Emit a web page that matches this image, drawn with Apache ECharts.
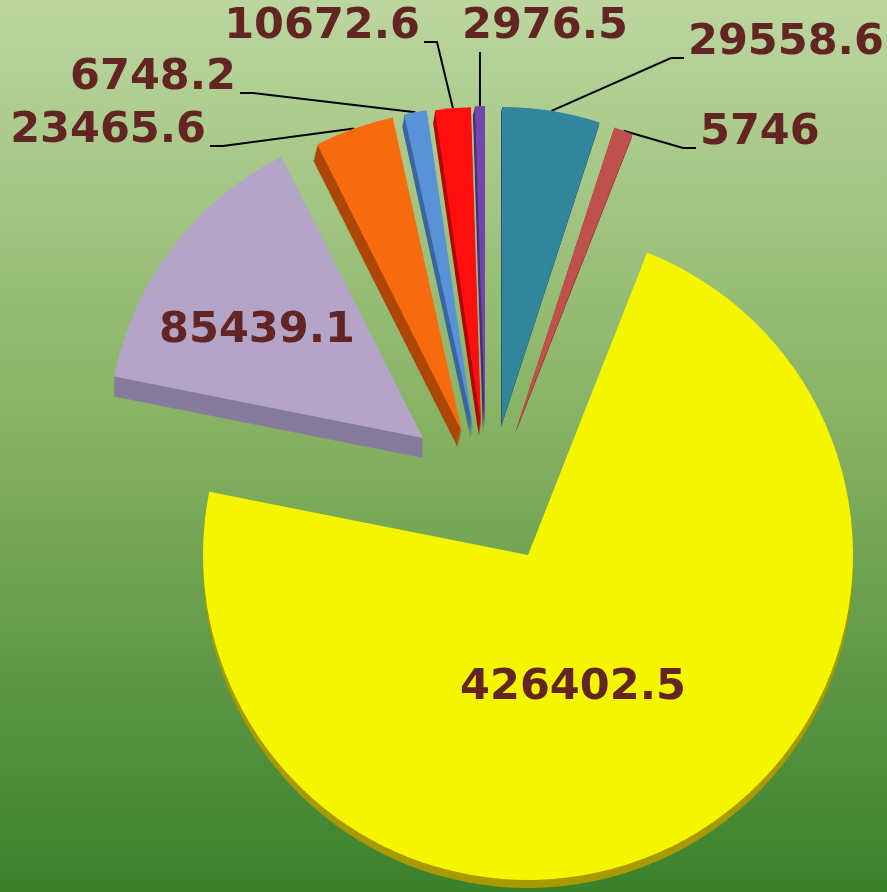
<!DOCTYPE html>
<html>
<head>
<meta charset="utf-8">
<script src="https://cdn.jsdelivr.net/npm/echarts@6/dist/echarts.min.js"></script>
<style>html,body{margin:0;padding:0;overflow:hidden;}#chart{width:887px;height:892px;}</style>
</head>
<body>
<div id="chart"></div>
<script>
// ---- data ----
const categories = ['S1', 'S2', 'S3', 'S4', 'S5', 'S6', 'S7', 'S8'];
const values = [29558.6, 5746, 426402.5, 85439.1, 23465.6, 6748.2, 10672.6, 2976.5];
const labelTexts = ['29558.6', '5746', '426402.5', '85439.1', '23465.6', '6748.2', '10672.6', '2976.5'];

// ---- styling / layout ----
const topColors  = ['#31869b', '#c0504d', '#f5f500', '#b3a4c8', '#f86a0e', '#5a92d8', '#ff0e0e', '#7446ad'];
const sideColors = ['#1f5d6d', '#8a3331', '#a89a00', '#867b9c', '#ad4608', '#3a66a2', '#b00808', '#4c2b7a'];
// per-slice pie centre (exploded), radius, extrusion vector, label placement
const sliceLayout = [
  { c: [502, 423], r: 316, depth: [-1, 4],  lab: { kind: 'left',  x: 688, y: 43 } },
  { c: [516, 430], r: 318, depth: [-1, 4],  lab: { kind: 'left',  x: 700, y: 133 } },
  { c: [528, 555], r: 325, depth: [0, 8],   lab: { kind: 'in',    x: 573, y: 688 } },
  { c: [423, 438], r: 315, depth: [0, 20],  lab: { kind: 'in',    x: 257, y: 331 } },
  { c: [462, 432], r: 322, depth: [-4, 16], lab: { kind: 'right', x: 206, y: 131 } },
  { c: [473, 427], r: 320, depth: [-2, 12], lab: { kind: 'right', x: 236, y: 78 } },
  { c: [481, 425], r: 318, depth: [-2, 12], lab: { kind: 'right', x: 420, y: 27 } },
  { c: [485, 425], r: 319, depth: [-2, 8],  lab: { kind: 'up',    x: 462, y: 27 } }
];
const labelFont = { fontFamily: 'DejaVu Sans', fontWeight: 'bold', fontSize: 43, color: '#632523' };

function sliceSeries(i, cx, cy, color, isTop, z) {
  const L = sliceLayout[i].lab;
  const outside = L.kind !== 'in';
  return {
    type: 'pie',
    center: [cx, cy],
    radius: [0, sliceLayout[i].r],
    startAngle: 90,
    clockwise: true,
    silent: true,
    animation: false,
    avoidLabelOverlap: false,
    z: z,
    itemStyle: { borderWidth: 0 },
    emphasis: { disabled: true },
    label: Object.assign({ position: outside ? 'outside' : 'inside', formatter: () => labelTexts[i] }, labelFont),
    labelLine: { show: true, lineStyle: { color: '#000', width: 2 } },
    data: values.map((v, j) => ({
      value: v,
      name: categories[j],
      itemStyle: { color: j === i ? color : 'rgba(0,0,0,0)' },
      label: { show: isTop && j === i },
      labelLine: { show: isTop && j === i && outside }
    })),
    labelLayout: function (p) {
      if (p.dataIndex !== i) return {};
      if (L.kind === 'in') return { x: L.x, y: L.y, align: 'center', verticalAlign: 'middle' };
      const p0 = p.labelLinePoints ? p.labelLinePoints[0] : [cx, cy];
      if (L.kind === 'up') {
        const e = [p0[0], L.y + 25];
        return { x: L.x, y: L.y, align: 'left', verticalAlign: 'middle', labelLinePoints: [p0, e, e] };
      }
      const ly = L.y + 15;
      if (L.kind === 'right') {
        return { x: L.x, y: L.y, align: 'right', verticalAlign: 'middle',
          labelLinePoints: [p0, [L.x + 17, ly], [L.x + 4, ly]] };
      }
      return { x: L.x, y: L.y, align: 'left', verticalAlign: 'middle',
        labelLinePoints: [p0, [L.x - 17, ly], [L.x - 4, ly]] };
    }
  };
}

const series = [];
// extruded sides (drawn first)
sliceLayout.forEach((s, i) => {
  const n = Math.max(1, Math.ceil(Math.max(Math.abs(s.depth[0]), Math.abs(s.depth[1])) / 2));
  for (let k = n; k >= 1; k--) {
    series.push(sliceSeries(i, s.c[0] + s.depth[0] * k / n, s.c[1] + s.depth[1] * k / n, sideColors[i], false, 1));
  }
});
// top faces
sliceLayout.forEach((s, i) => {
  series.push(sliceSeries(i, s.c[0], s.c[1], topColors[i], true, 2));
});

const chart = echarts.init(document.getElementById('chart'));
chart.setOption({
  backgroundColor: new echarts.graphic.LinearGradient(0, 0, 0, 1, [
    { offset: 0, color: '#bcd69f' },
    { offset: 0.5, color: '#84b060' },
    { offset: 1, color: '#3a812c' }
  ]),
  animation: false,
  series: series
});
</script>
</body>
</html>
